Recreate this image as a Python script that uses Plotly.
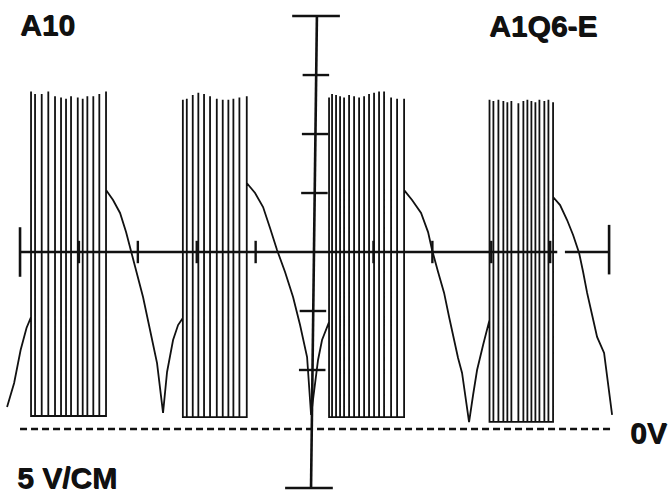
import plotly.graph_objects as go

# Oscilloscope trace A10 / A1Q6-E, 5 V per division.
# Horizontal values are in screen divisions, vertical values in volts.

# Decaying ramps between pulse bursts (time in div, level in V)
ramp0_t = [-5.22, -5.10, -4.99, -4.89, -4.813]
ramp0_v = [1.86, 3.90, 6.69, 8.56, 9.49]

ramp1_t = [-3.540, -3.421, -3.302, -3.200, -3.132, -3.031, -2.912, -2.793, -2.674, -2.572, -2.504, -2.402, -2.317, -2.236]
ramp1_v = [20.25, 19.41, 18.31, 16.69, 15.34, 13.47, 11.19, 8.39, 5.59, 1.36, 4.83, 7.54, 8.81, 9.41]

ramp2_t = [-1.151, -1.010, -0.874, -0.756, -0.637, -0.501, -0.365, -0.246, -0.127, -0.059, 0.059, 0.127, 0.246]
ramp2_v = [20.85, 20.00, 18.81, 17.03, 15.17, 13.31, 11.19, 8.81, 6.10, 1.19, 5.85, 7.54, 9.07]

ramp3_t = [1.520, 1.655, 1.808, 1.927, 1.995, 2.097, 2.199, 2.284, 2.368, 2.436, 2.504, 2.572, 2.623, 2.691, 2.759, 2.861, 2.970]
ramp3_v = [20.25, 19.41, 18.31, 16.69, 15.17, 13.31, 11.53, 9.49, 7.54, 6.02, 4.75, 2.46, 0.59, 2.88, 5.00, 7.12, 9.24]

ramp4_t = [4.049, 4.168, 4.287, 4.389, 4.491, 4.559, 4.627, 4.712, 4.796, 4.915, 4.983, 5.051]
ramp4_v = [19.66, 18.98, 17.71, 16.44, 14.92, 13.31, 11.53, 9.66, 7.80, 6.44, 3.73, 1.19]

# Pulse bursts: pulse times, pulse peak levels, burst floor level
burst1_t = [-4.813, -4.745, -4.632, -4.520, -4.406, -4.304, -4.219, -4.134, -4.020, -3.936, -3.857, -3.756, -3.654, -3.540]
burst1_peak = [28.6, 28.4, 28.4, 28.6, 28.2, 28.1, 28.0, 28.2, 28.1, 28.0, 28.2, 28.2, 28.4, 28.6]
burst1_floor = 1.1

burst2_t = [-2.236, -2.169, -2.068, -1.973, -1.876, -1.774, -1.660, -1.559, -1.463, -1.378, -1.276, -1.151]
burst2_peak = [27.9, 28.0, 28.3, 28.5, 28.4, 28.2, 28.0, 27.9, 27.9, 28.0, 28.1, 28.2]
burst2_floor = 1.0

burst3_t = [0.246, 0.297, 0.365, 0.433, 0.501, 0.586, 0.671, 0.756, 0.841, 0.925, 1.010, 1.095, 1.180, 1.299, 1.401, 1.520]
burst3_peak = [28.1, 28.4, 28.3, 28.2, 28.1, 28.3, 28.2, 28.1, 28.2, 28.4, 28.5, 28.6, 28.6, 28.1, 28.0, 28.0]
burst3_floor = 1.0

burst4_t = [2.970, 3.036, 3.121, 3.205, 3.273, 3.341, 3.460, 3.545, 3.613, 3.681, 3.749, 3.817, 3.901, 3.970, 4.049]
burst4_peak = [27.9, 27.8, 27.9, 27.8, 27.7, 27.8, 27.6, 27.8, 27.9, 27.8, 27.7, 27.9, 27.8, 27.9, 27.7]
burst4_floor = 0.6

# Graticule
h_ticks = [-4, -3, -2, -1, 1, 2, 3, 4]      # divisions on the centre line
v_ticks = [30, 25, 20, 10, 5]               # volts on the centre line
centre_v = 15
h_end = 5
h_gap = (4.12, 4.25)                        # break in the centre line near the right end
v_top, v_bottom = 35, -5


def burst_path(ts, peaks, floor, exit_level):
    xs, ys = [], []
    for i, (t, p) in enumerate(zip(ts, peaks)):
        if i == 0:
            xs += [t, t]
            ys += [p, floor]
        else:
            xs += [t, t, t]
            ys += [floor, p, floor]
    # last stroke returns from the peak to where the ramp starts
    xs[-1] = ts[-1]
    ys[-1] = exit_level
    return xs, ys


trace_x, trace_y = [], []
segments = [
    (ramp0_t, ramp0_v, burst1_t, burst1_peak, burst1_floor, ramp1_v[0]),
    (ramp1_t, ramp1_v, burst2_t, burst2_peak, burst2_floor, ramp2_v[0]),
    (ramp2_t, ramp2_v, burst3_t, burst3_peak, burst3_floor, ramp3_v[0]),
    (ramp3_t, ramp3_v, burst4_t, burst4_peak, burst4_floor, ramp4_v[0]),
]
for rt, rv, bt, bp, bf, exit_v in segments:
    trace_x += rt
    trace_y += rv
    bx, by = burst_path(bt, bp, bf, exit_v)
    trace_x += bx
    trace_y += by
trace_x += ramp4_t
trace_y += ramp4_v

ink = "#111111"
fig = go.Figure()


# Vertical centre line leans slightly on the screen (right at the top)
def vx(v):
    return -0.06 + (v - v_bottom) * 0.10 / (v_top - v_bottom)


grat_x = [-h_end, h_gap[0], None, h_gap[1], h_end, None]
grat_y = [centre_v, centre_v, None, centre_v, centre_v, None]
grat_x += [vx(v_top), vx(v_bottom), None]
grat_y += [v_top, v_bottom, None]
# end caps
grat_x += [-h_end, -h_end, None, h_end, h_end, None]
grat_y += [centre_v - 2.1, centre_v + 2.1, None, centre_v - 1.9, centre_v + 2.3, None]
grat_x += [vx(v_top) - 0.42, vx(v_top) + 0.39, None, vx(v_bottom) - 0.44, vx(v_bottom) + 0.37, None]
grat_y += [v_top, v_top, None, v_bottom, v_bottom, None]

tick_x, tick_y = [], []
for t in h_ticks:
    tick_x += [t, t, None]
    tick_y += [centre_v - 0.95, centre_v + 0.95, None]
for v in v_ticks:
    tick_x += [vx(v) - 0.23, vx(v) + 0.22, None]
    tick_y += [v, v, None]

fig.add_trace(go.Scatter(x=grat_x, y=grat_y, mode="lines",
                         line=dict(color=ink, width=2.6), hoverinfo="skip"))
fig.add_trace(go.Scatter(x=tick_x, y=tick_y, mode="lines",
                         line=dict(color=ink, width=2.4), hoverinfo="skip"))

# 0 V reference
fig.add_trace(go.Scatter(x=[-5.0, 5.05], y=[0, 0], mode="lines",
                         line=dict(color=ink, width=2.4, dash="7px,4px"), hoverinfo="skip"))

# Signal
fig.add_trace(go.Scatter(x=trace_x, y=trace_y, mode="lines",
                         line=dict(color=ink, width=1.8), hoverinfo="skip"))

font = dict(family="Liberation Sans, Arial, sans-serif", size=30, color=ink,
            shadow="0.7px 0.5px 0px #111111")
labels = [
    ("<b>A10</b>", -5.034, 34.3),
    ("<b>A1Q6-E</b>", 2.929, 34.2),
    ("<b>0V</b>", 5.323, -0.3),
    ("<b>5 V/CM</b>", -5.085, -4.1),
]
for txt, x, y in labels:
    fig.add_annotation(x=x, y=y, text=txt, showarrow=False, xanchor="left",
                       yanchor="middle", font=font)

fig.update_layout(
    width=668, height=500,
    margin=dict(l=0, r=0, t=0, b=0),
    paper_bgcolor="white", plot_bgcolor="white",
    showlegend=False,
    xaxis=dict(range=[-5.34, 6.00], visible=False, fixedrange=True),
    yaxis=dict(range=[-6.02, 36.36], visible=False, fixedrange=True),
)

fig.write_html("out.html")
